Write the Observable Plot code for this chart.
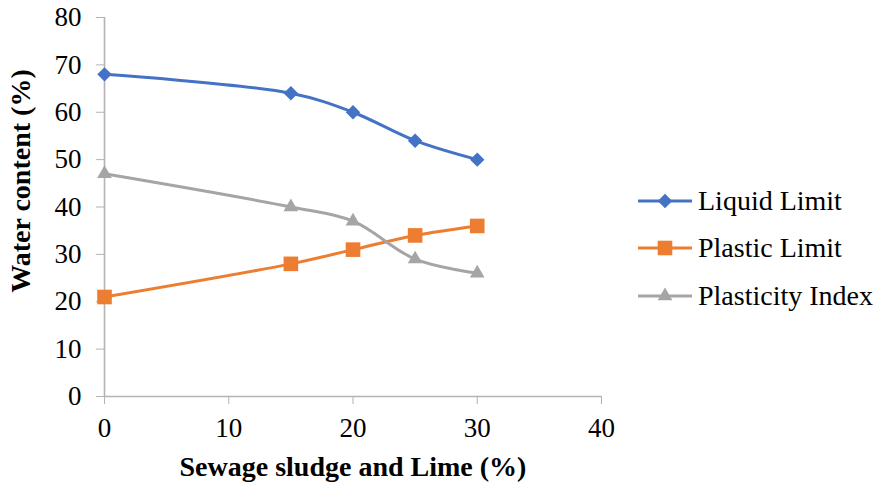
<!DOCTYPE html>
<html>
<head>
<meta charset="utf-8">
<script src="https://cdn.jsdelivr.net/npm/d3@7"></script>
<script src="https://cdn.jsdelivr.net/npm/@observablehq/plot@0.6"></script>
<style>
  html, body { margin: 0; padding: 0; background: #fff; }
  #chart { position: relative; width: 879px; height: 485px; font-family: "Liberation Serif", "Times New Roman", serif; }
  #legend { position: absolute; left: 636px; top: 177px; }
  .item { display: flex; align-items: center; height: 47.5px; font-size: 28px; color: #000; }
  .item svg { margin-right: 5px; }
</style>
</head>
<body>
<div id="chart"><div id="legend"></div></div>
<script>
// Mixture content (%) on the x axis
const content = [0, 15, 20, 25, 30];
// Atterberg limits, water content (%)
const liquidLimit = [68, 64, 60, 54, 50];
const plasticLimit = [21, 28, 31, 34, 36];
const plasticityIndex = [47, 40, 37, 29, 26];

const xTicks = [0, 10, 20, 30, 40];
const yTicks = [0, 10, 20, 30, 40, 50, 60, 70, 80];

const series = [
  {name: "Liquid Limit", values: liquidLimit, color: "#4472C4", symbol: "diamond2", r: 6.5},
  {name: "Plastic Limit", values: plasticLimit, color: "#ED7D31", symbol: "square2", r: 9.3},
  {name: "Plasticity Index", values: plasticityIndex, color: "#A5A5A5", symbol: "triangle2", r: 7}
];

const rows = series.flatMap(s => content.map((c, i) => ({series: s.name, x: c, y: s.values[i]})));
const axisGray = "#b3b3b3";

const marks = [
  Plot.ruleY([0], {stroke: axisGray, strokeWidth: 1.6}),
  Plot.ruleX([0], {stroke: axisGray, strokeWidth: 1.6}),
  Plot.axisY({ticks: yTicks, tickSize: 8, tickPadding: 15, stroke: axisGray, strokeOpacity: 1,
    fontSize: 27, label: null, fill: "#000"}),
  Plot.axisX({ticks: xTicks, tickSize: 8, tickPadding: 13, stroke: axisGray, strokeOpacity: 1,
    fontSize: 27, label: null, fill: "#000"}),
  Plot.text(["Water content (%)"], {frameAnchor: "left", textAnchor: "middle", lineAnchor: "middle",
    rotate: -90, dx: -83, dy: -26, fontSize: 28, fontWeight: "bold", fill: "#000"}),
  Plot.text(["Sewage sludge and Lime (%)"], {frameAnchor: "bottom", textAnchor: "middle", lineAnchor: "middle",
    dy: 71, fontSize: 28, fontWeight: "bold", fill: "#000"})
];

for (const s of series) {
  const data = rows.filter(d => d.series === s.name);
  marks.push(Plot.line(data, {x: "x", y: "y", stroke: s.color, strokeWidth: 3, curve: "catmull-rom"}));
  marks.push(Plot.dot(data, {x: "x", y: "y", fill: s.color, stroke: "none", symbol: s.symbol, r: s.r}));
}

const plot = Plot.plot({
  width: 879,
  height: 485,
  marginLeft: 104,
  marginRight: 278,
  marginTop: 17,
  marginBottom: 89,
  style: {fontFamily: "'Liberation Serif', 'Times New Roman', serif", background: "#fff", overflow: "visible"},
  x: {domain: [0, 40]},
  y: {domain: [0, 80]},
  marks
});
document.getElementById("chart").prepend(plot);

// Legend: line with marker, then series name
const legend = d3.select("#legend");
for (const s of series) {
  const item = legend.append("div").attr("class", "item");
  const svg = item.append("svg").attr("width", 57).attr("height", 24);
  svg.append("line").attr("x1", 2).attr("x2", 56).attr("y1", 12).attr("y2", 12)
    .attr("stroke", s.color).attr("stroke-width", 3);
  const sym = {diamond2: d3.symbolDiamond2, square2: d3.symbolSquare2, triangle2: d3.symbolTriangle2}[s.symbol];
  svg.append("path").attr("transform", "translate(29,12)")
    .attr("d", d3.symbol(sym, Math.PI * s.r * s.r)()).attr("fill", s.color);
  item.append("span").text(s.name);
}
</script>
</body>
</html>
